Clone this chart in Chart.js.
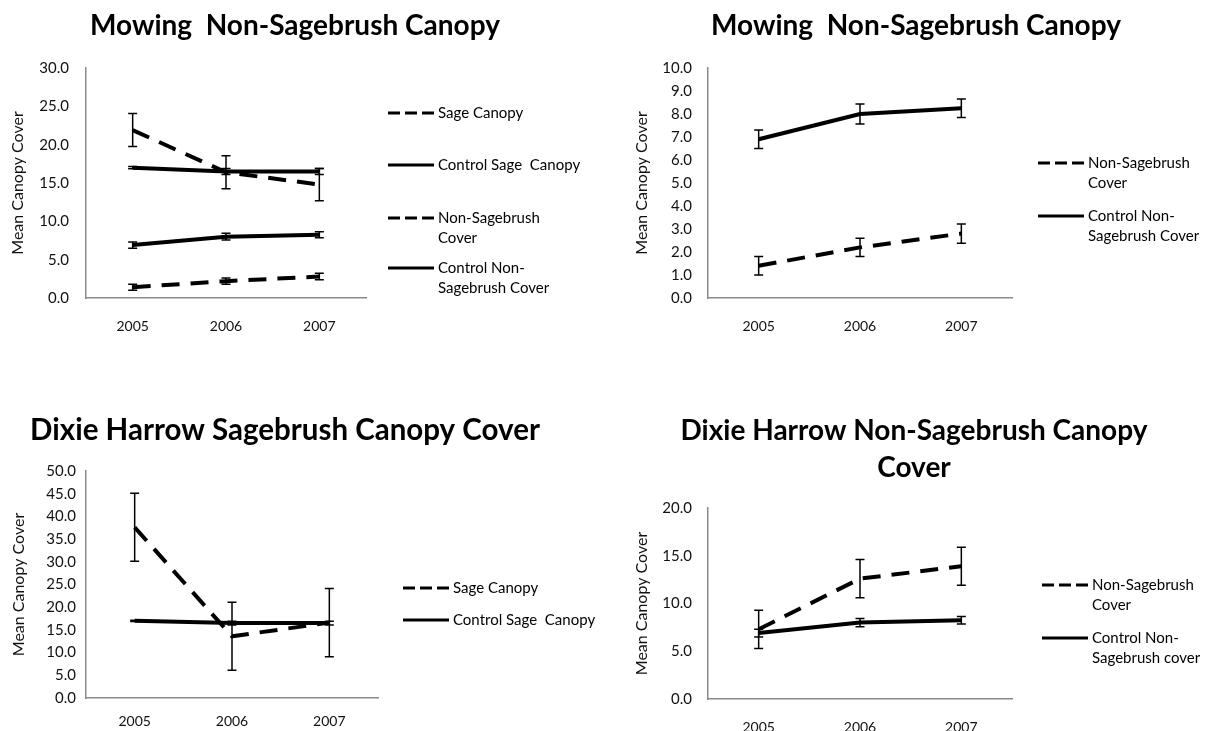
<!DOCTYPE html>
<html>
<head>
<meta charset="utf-8">
<title>Canopy cover</title>
<script src="https://cdn.jsdelivr.net/npm/chart.js@4.4.1/dist/chart.umd.min.js"></script>
<style>
  html, body { margin: 0; padding: 0; background: #fff; }
  body { width: 1206px; height: 731px; position: relative; overflow: hidden; }
  canvas { position: absolute; display: block; }
</style>
</head>
<body>
<canvas id="mowAll" width="603" height="365" style="left:0;top:0"></canvas>
<canvas id="mowNon" width="603" height="365" style="left:603px;top:0"></canvas>
<canvas id="dixSage" width="603" height="366" style="left:0;top:365px"></canvas>
<canvas id="dixNon" width="603" height="366" style="left:603px;top:365px"></canvas>
<script>
const years = ['2005', '2006', '2007'];

// mowing treatment
const mowSage = [21.9, 16.4, 14.8];
const mowSageErr = [2.15, 2.15, 2.1];
const mowNonSage = [1.4, 2.2, 2.8];
const mowNonSageErr = [0.4, 0.4, 0.42];

// dixie harrow treatment
const dixSage = [37.6, 13.6, 16.6];
const dixSageErr = [7.5, 7.5, 7.5];
const dixNonSage = [7.3, 12.6, 13.9];
const dixNonSageErr = [2.0, 2.0, 2.0];

// untreated control plots
const ctrlSage = [17.0, 16.5, 16.5];
const ctrlSageErr = [0.15, 0.4, 0.4];
const ctrlNonSage = [6.9, 8.0, 8.25];
const ctrlNonSageErr = [0.4, 0.43, 0.4];

const FONT = 'Lato';
Chart.defaults.font.family = FONT;
Chart.defaults.color = '#111';

// vertical error bars, drawn through the chart's own scales
const errorBars = {
  id: 'errorBars',
  afterDatasetsDraw(chart) {
    const { ctx, scales: { x, y } } = chart;
    ctx.save();
    ctx.strokeStyle = '#000';
    ctx.lineWidth = 1.5;
    ctx.setLineDash([]);
    chart.data.datasets.forEach(ds => {
      if (!ds.errors) return;
      ds.data.forEach((v, i) => {
        const px = x.getPixelForValue(i);
        const top = y.getPixelForValue(v + ds.errors[i]);
        const bot = y.getPixelForValue(v - ds.errors[i]);
        ctx.beginPath();
        ctx.moveTo(px, top); ctx.lineTo(px, bot);
        ctx.moveTo(px - 4.5, top); ctx.lineTo(px + 4.5, top);
        ctx.moveTo(px - 4.5, bot); ctx.lineTo(px + 4.5, bot);
        ctx.stroke();
      });
    });
    ctx.restore();
  }
};

// title + line-sample legend with wrapped labels
const panelDecor = {
  id: 'panelDecor',
  afterDraw(chart, args, opts) {
    const ctx = chart.ctx;
    ctx.save();
    ctx.fillStyle = '#000';
    ctx.font = `bold ${opts.titleSize}px ${FONT}`;
    ctx.textAlign = 'center';
    ctx.textBaseline = 'alphabetic';
    opts.title.forEach((t, i) => ctx.fillText(t, opts.titleX, opts.titleY + i * opts.titleGap));

    ctx.font = `15px ${FONT}`;
    ctx.textAlign = 'left';
    ctx.textBaseline = 'middle';
    chart.data.datasets.forEach((ds, i) => {
      const y = opts.rows[i];
      ctx.strokeStyle = ds.borderColor;
      ctx.lineWidth = 3;
      ctx.setLineDash(ds.borderDash.length ? [12, 5] : []);
      ctx.beginPath();
      ctx.moveTo(opts.x, y);
      ctx.lineTo(opts.x + 46, y);
      ctx.stroke();
      ds.label.split('\n').forEach((t, j) => ctx.fillText(t, opts.x + 50, y + j * 20));
    });
    ctx.restore();
  }
};

function series(label, data, errors, dashed) {
  return {
    label, data, errors,
    borderColor: '#000',
    borderWidth: 4,
    borderDash: dashed ? [18, 11] : [],
    borderCapStyle: 'butt',
    pointRadius: 0,
    tension: 0,
    fill: false
  };
}

function makeChart(id, datasets, ax, decor) {
  const axisLine = { display: true, color: '#8a8a8a', width: 1.5 };
  const noGrid = { display: true, drawOnChartArea: false, drawTicks: false };
  return new Chart(document.getElementById(id), {
    type: 'line',
    data: { labels: years, datasets },
    options: {
      responsive: false,
      animation: false,
      layout: { padding: { top: ax.top, right: ax.right, left: 0, bottom: 0 } },
      plugins: {
        legend: { display: false },
        tooltip: { enabled: false },
        panelDecor: decor
      },
      scales: {
        x: {
          offset: true,
          grid: noGrid,
          border: axisLine,
          ticks: { padding: ax.xPad, font: { size: 14 } },
          afterFit: s => { s.height = ax.xHeight; }
        },
        y: {
          min: 0,
          max: ax.max,
          grid: noGrid,
          border: axisLine,
          ticks: {
            stepSize: ax.step,
            padding: ax.yPad,
            font: { size: 15 },
            callback: v => v.toFixed(1)
          },
          title: {
            display: true,
            text: 'Mean Canopy Cover',
            font: { size: 16 },
            padding: { top: ax.titlePad, bottom: 0 }
          },
          afterFit: s => { s.width = ax.left; }
        }
      }
    },
    plugins: [errorBars, panelDecor]
  });
}

makeChart('mowAll', [
  series('Sage Canopy', mowSage, mowSageErr, true),
  series('Control Sage  Canopy', ctrlSage, ctrlSageErr, false),
  series('Non-Sagebrush\nCover', mowNonSage, mowNonSageErr, true),
  series('Control Non-\nSagebrush Cover', ctrlNonSage, ctrlNonSageErr, false)
], { top: 68, right: 237, left: 86, xHeight: 67, xPad: 20, max: 30, step: 5, yPad: 17, titlePad: 8 },
{ title: ['Mowing  Non-Sagebrush Canopy'], titleSize: 28, titleX: 295, titleY: 35, titleGap: 37,
  x: 388, rows: [113, 165, 218, 268] });

makeChart('mowNon', [
  series('Non-Sagebrush\nCover', mowNonSage, mowNonSageErr, true),
  series('Control Non-\nSagebrush Cover', ctrlNonSage, ctrlNonSageErr, false)
], { top: 68, right: 194, left: 105, xHeight: 67, xPad: 20, max: 10, step: 1, yPad: 16, titlePad: 29 },
{ title: ['Mowing  Non-Sagebrush Canopy'], titleSize: 28, titleX: 313, titleY: 35, titleGap: 37,
  x: 435, rows: [163, 216] });

makeChart('dixSage', [
  series('Sage Canopy', dixSage, dixSageErr, true),
  series('Control Sage  Canopy', ctrlSage, ctrlSageErr, false)
], { top: 106, right: 225, left: 86, xHeight: 33, xPad: 15, max: 50, step: 5, yPad: 10, titlePad: 9 },
{ title: ['Dixie Harrow Sagebrush Canopy Cover'], titleSize: 29.5, titleX: 285, titleY: 75, titleGap: 37,
  x: 403, rows: [223, 255] });

makeChart('dixNon', [
  series('Non-Sagebrush\nCover', dixNonSage, dixNonSageErr, true),
  series('Control Non-\nSagebrush cover', ctrlNonSage, ctrlNonSageErr, false)
], { top: 143, right: 194, left: 105, xHeight: 32, xPad: 20, max: 20, step: 5, yPad: 16, titlePad: 29 },
{ title: ['Dixie Harrow Non-Sagebrush Canopy', 'Cover'], titleSize: 28, titleX: 311, titleY: 75, titleGap: 37,
  x: 439, rows: [220, 273] });
</script>
</body>
</html>
